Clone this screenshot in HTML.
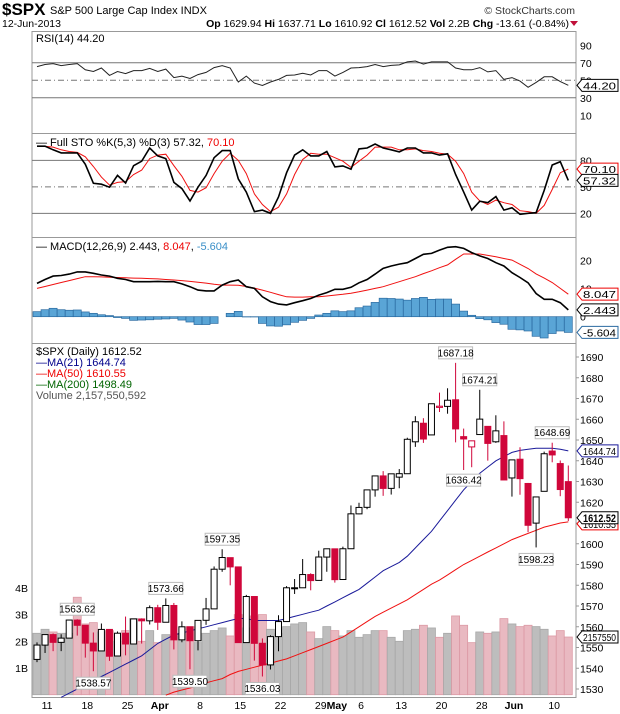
<!DOCTYPE html>
<html><head><meta charset="utf-8">
<style>
body{margin:0;background:#fff;}
svg{display:block;font-family:"Liberation Sans",sans-serif;}
</style></head>
<body>
<svg id="chart" width="620" height="714" viewBox="0 0 620 714" xmlns="http://www.w3.org/2000/svg">
  <rect x="0" y="0" width="620" height="714" fill="#fff"/>
  <g>
    <text x="2" y="15" font-size="17" font-weight="bold">$SPX</text>
    <text x="50" y="14" font-size="11">S&amp;P 500 Large Cap Index  INDX</text>
    <text x="575" y="14" font-size="10.5" text-anchor="end" fill="#333">© StockCharts.com</text>
    <text x="2" y="27" font-size="10.5">12-Jun-2013</text>
    <text x="569" y="27" font-size="10.5" text-anchor="end"><tspan font-weight="bold">Op</tspan> 1629.94 <tspan font-weight="bold">Hi</tspan> 1637.71 <tspan font-weight="bold">Lo</tspan> 1610.92 <tspan font-weight="bold">Cl</tspan> 1612.52 <tspan font-weight="bold">Vol</tspan> 2.2B <tspan font-weight="bold">Chg</tspan> -13.61 (-0.84%)</text>
    <path d="M570,21 L578,21 L574,26 Z" fill="#c0103a"/>
  </g>
  <g id="frames">
    <rect x="32" y="31.5" width="544" height="102" fill="none" stroke="#999"/>
    <rect x="32" y="133.5" width="544" height="104" fill="none" stroke="#999"/>
    <rect x="32" y="237.5" width="544" height="106" fill="none" stroke="#999"/>
    <rect x="32" y="343.5" width="544" height="354" fill="none" stroke="#999"/>
  </g>
  <g id="layer"></g>
  <g font-size="11">
    <text x="36" y="42">RSI(14) 44.20</text>
    <text x="36" y="146">— Full STO %K(5,3) %D(3) 57.32, <tspan fill="#e00">70.10</tspan></text>
    <text x="36" y="250">— MACD(12,26,9) 2.443, <tspan fill="#e00">8.047</tspan>, <tspan fill="#3a8fc8">-5.604</tspan></text>
    <text x="36" y="355">$SPX (Daily) 1612.52</text>
    <text x="36" y="366" fill="#00008b">—MA(21) 1644.74</text>
    <text x="36" y="377" fill="#e00">—MA(50) 1610.55</text>
    <text x="36" y="388" fill="#006400">—MA(200) 1498.49</text>
    <text x="36" y="399" fill="#555">Volume 2,157,550,592</text>
  </g>
</svg>
<script>
const dates=[8,11,12,13,14,15,18,19,20,21,22,25,26,27,28,1,2,3,4,5,8,9,10,11,12,15,16,17,18,19,22,23,24,25,26,29,30,1,2,3,6,7,8,9,10,13,14,15,16,17,20,21,22,23,24,28,29,30,31,3,4,5,6,7,10,11,12];
const opens=[1544.26,1551.15,1556.22,1552.48,1554.52,1563.21,1560.70,1552.10,1548.34,1558.71,1545.90,1556.89,1551.69,1563.75,1562.86,1569.18,1562.17,1570.25,1553.69,1559.98,1553.26,1563.11,1568.61,1587.73,1593.30,1588.84,1552.36,1574.57,1552.03,1541.61,1555.25,1562.50,1578.78,1578.78,1585.16,1582.34,1593.58,1597.55,1582.77,1597.60,1614.40,1617.55,1625.95,1632.69,1626.69,1632.10,1633.75,1649.13,1658.07,1652.45,1665.71,1666.20,1669.39,1651.62,1646.67,1652.63,1656.57,1649.14,1652.13,1631.71,1640.73,1629.05,1609.94,1625.27,1644.67,1638.64,1629.94];
const highs=[1552.48,1556.27,1556.77,1556.39,1563.32,1563.62,1560.70,1557.25,1561.56,1558.71,1557.74,1564.91,1563.95,1564.07,1570.28,1570.57,1573.66,1571.47,1562.60,1559.98,1563.07,1573.89,1589.07,1597.35,1593.30,1588.84,1575.35,1574.57,1554.38,1555.89,1565.55,1579.58,1583.00,1592.64,1585.78,1596.65,1597.57,1597.55,1598.60,1618.46,1619.77,1626.03,1632.78,1635.01,1633.70,1636.00,1651.10,1661.49,1660.51,1667.47,1672.84,1674.93,1687.18,1655.50,1649.78,1674.21,1656.57,1661.91,1658.99,1640.42,1646.53,1629.31,1622.56,1644.40,1648.69,1640.13,1637.71];
const lows=[1542.94,1547.36,1548.24,1548.25,1554.52,1555.74,1545.13,1538.57,1548.34,1543.55,1545.90,1546.22,1551.69,1551.90,1561.08,1558.47,1562.17,1549.07,1552.53,1539.50,1548.63,1560.92,1568.61,1586.48,1579.97,1552.28,1552.36,1543.69,1536.03,1539.40,1548.19,1562.50,1575.80,1578.78,1577.56,1582.34,1586.50,1581.28,1582.77,1597.60,1614.21,1616.64,1622.70,1623.09,1623.71,1626.74,1633.75,1646.68,1648.60,1652.45,1663.52,1662.67,1648.86,1635.53,1636.88,1652.63,1640.05,1648.61,1630.74,1622.72,1623.62,1605.58,1598.23,1625.27,1639.26,1622.92,1610.92];
const closes=[1551.18,1556.22,1552.48,1554.52,1563.23,1560.70,1552.10,1548.34,1558.71,1545.80,1556.89,1551.69,1563.77,1562.85,1569.19,1562.17,1570.25,1553.69,1559.98,1553.28,1563.07,1568.61,1587.73,1593.37,1588.85,1552.36,1574.57,1552.01,1541.61,1555.25,1562.50,1578.78,1578.79,1585.16,1582.24,1593.61,1597.57,1582.70,1597.59,1614.42,1617.50,1625.96,1632.69,1626.67,1633.70,1633.77,1650.34,1658.78,1650.47,1667.47,1666.29,1669.16,1655.35,1650.51,1649.60,1660.06,1648.36,1654.41,1630.74,1640.42,1631.38,1608.90,1622.56,1643.38,1642.81,1626.13,1612.52];
const volumes=[2.3,2.45,2.35,2.3,2.3,3.65,2.65,2.7,2.35,2.4,2.0,2.4,2.85,2.0,2.4,1.95,2.25,2.2,2.3,2.55,1.95,2.3,2.4,2.5,2.2,3.0,2.5,2.95,3.0,2.45,2.3,2.55,2.65,2.7,2.35,2.1,2.55,2.4,2.2,2.4,2.15,2.25,2.4,2.4,2.15,2.0,2.4,2.45,2.6,2.5,2.15,2.3,2.95,2.6,1.95,2.35,2.3,2.35,2.85,2.65,2.55,2.6,2.55,2.45,2.2,2.4,2.16];
const ma21=[null,null,null,1526,1528,1530,1532,1534,1536,1538,1540,1542,1544,1546,1549,1552,1554,1556,1557,1558,1559,1560,1561,1562,1563,1564,1564,1563,1563,1563,1563,1564,1565,1566,1567,1568,1570,1572,1574,1576,1578,1581,1584,1587,1589,1591,1594,1598,1602,1606,1611,1616,1621,1626,1630,1634,1637,1640,1642,1644,1645,1645.5,1646,1646,1646,1645.5,1644.74];
const ma50=[null,null,null,null,null,null,null,null,null,null,null,null,null,null,null,null,1527,1528.5,1529.5,1530.5,1531.5,1533,1534,1535,1537,1538.5,1539.5,1540.5,1541.5,1542.5,1543.5,1544.5,1546,1547.5,1549,1550.5,1552,1553.5,1555,1557.5,1560,1562.5,1565,1567,1569,1571,1573,1575.5,1578,1580.5,1582.5,1585,1587.5,1590,1592,1594,1596,1598,1600,1602,1603.5,1605,1606.5,1608,1609,1610,1610.55];
const rsi=[65.6,68,69,66.7,68,69,62,60,64,55.5,60,57.6,61,61,63.5,60,62.7,53,54.7,52,56.5,59,64.5,66.7,64,48,54.7,46.7,44,48,51,55.5,56,58,56,61,61,54.7,59,64,64.5,65.6,68,65.6,67,67.5,71,72,68.5,71,71,71,64,62,62,64.5,59.5,61,51,53,49,42,47.5,54,54,48.5,44.2];
const stoK=[96,96,92,88.5,88.5,88.5,75.5,54,53,49.6,63,54.4,74,79,94,85,82,55,48,34,49.6,63,83,91,91,59,44,22,23.7,20,38.5,66,86,92,85,85,90,72.6,73.7,70,93,94,98.5,94,92,89.6,94,94,88.5,88.5,86,87.4,64,44,23.7,33.7,32,39,23.7,26.3,18.9,20,20.7,46,74.8,78.5,57.32];
const stoD=[96,96,95,92,90,89,84,73,61,52,55,56,64,69,82,86,87,74,62,46,44,49,65,79,88,80,65,42,30,22,27,42,64,81,88,87,87,83,79,72,79,86,95,95,95,92,92,93,91,90,88,87,79,65,44,34,30,35,32,30,23,22,20,29,47,66,70.1];
const macd=[11.9,13.3,14.5,14.7,15.2,16,16,15.5,14.9,14.5,13.7,13.3,12.5,12.5,12.5,12.6,12.5,12.5,11.7,10.7,9.5,9.2,9.2,11.3,12.5,13.1,10.7,10.1,7.1,5.4,4.5,4.2,5,5.7,6.5,7.7,8.6,9.8,9.8,10.5,12.1,13.3,15.2,17.3,18.1,18.8,19.3,20.8,22.3,22.6,23.8,24.8,25,24.4,22.9,21.7,20.8,19.3,18.1,15.7,14,12.1,8.3,6.2,6.2,5,2.443];
const signal=[10.1,10.8,11.5,12.2,12.9,13.6,14.3,14.3,14.2,14.1,14.0,13.9,13.8,13.7,13.6,13.5,13.3,13.1,12.9,12.6,12.3,12.0,11.6,11.3,11.3,11.2,10.8,10.2,9.5,8.7,7.9,7.1,7.0,7.0,7.1,7.1,7.4,7.7,8.0,8.4,8.9,9.5,10.1,10.7,11.6,12.5,13.4,14.3,15.4,16.4,17.5,18.5,20.5,22.4,22.4,22.4,21.9,21.4,20.8,20.2,18.7,17.2,15.3,13.8,12.2,10.1,8.047];
const priceTicks=[1530,1540,1550,1560,1570,1580,1590,1600,1610,1620,1630,1640,1650,1660,1670,1680,1690];
const volTicks=[1,2,3,4];
const rsiTicks=[90,70,50,30,10];
const stoTicks=[80,50,20];
const macdTicks=[20,10,0];
const xLabelIdx=[1,6,11,15,20,25,30,35,37,40,45,50,55,59,64];
const xLabelText=["11","18","25","Apr","8","15","22","29","May","6","13","20","28","Jun","10"];
const xLabelBold=[0,0,0,1,0,0,0,0,1,0,0,0,0,1,0];
const callIdx=[52,55,53,64,62,23,16,5,7,19,28];
const callVal=[1687.18,1674.21,1636.42,1648.69,1598.23,1597.35,1573.66,1563.62,1538.57,1539.50,1536.03];
const callAbove=[1,1,0,1,0,1,1,1,0,0,0];

const NS="http://www.w3.org/2000/svg";
const L=document.getElementById('layer');
function mk(tag,attrs,parent){const e=document.createElementNS(NS,tag);for(const k in attrs)e.setAttribute(k,attrs[k]);(parent||L).appendChild(e);return e;}
const X=i=>37+8.05*i;
const yP=p=>357+(1690-p)*2.075;
const yV=v=>694.7-v*26.7;
const yR=v=>124-v*0.875;
const yS=v=>231-v*0.883;
const yM=v=>316.7-v*2.8;
const RED="#d0063a";

volumes.forEach((v,i)=>{
  const up=i==0||closes[i]>=closes[i-1];
  const r=mk('rect',{x:X(i)-4,y:yV(v),width:8,height:694.7-yV(v),fill:up?"#bdbdbd":"#e9b9c1",stroke:up?"#a8a8a8":"#dc9aa5","stroke-width":0.8});
  
  
});
volTicks.forEach(v=>{
  const t=mk('text',{x:28,y:yV(v)+4,"font-size":10.5,"text-anchor":"end"});t.textContent=v+"B";
  
  
});
priceTicks.forEach(p=>{
  const t=mk('text',{x:580,y:yP(p)+4,"font-size":10.5});t.textContent=p;
  
  
  const k=mk('line',{x1:576,x2:579,y1:yP(p),y2:yP(p),stroke:"#999"});
  
  
});
function line(arr,yf,color,w,name){
  let d="";arr.forEach((v,i)=>{if(v==null)return;d+=(d?"L":"M")+X(i).toFixed(1)+","+yf(v).toFixed(1);});
  const p=mk('path',{d:d,fill:"none",stroke:color,"stroke-width":w});
  
  
}
line(ma50,yP,"#f01010",1,'ma50-line');
line(ma21,yP,"#1a1a9a",1,'ma21-line');
opens.forEach((o,i)=>{
  const c=closes[i];const col=(i==0||c>=closes[i-1])?"#000":RED;
  const w=mk('line',{x1:X(i),x2:X(i),y1:yP(highs[i]),y2:yP(lows[i]),stroke:col,"stroke-width":1});
  
  
  const top=yP(Math.max(o,c)),bot=yP(Math.min(o,c));
  const b=mk('rect',{x:X(i)-3,y:top,width:6,height:Math.max(1,bot-top),fill:c<o?col:"#fff",stroke:col,"stroke-width":1});
  
  
});
callIdx.forEach((idx,k)=>{
  const v=callVal[k],cx=X(idx);
  const y=callAbove[k]?yP(v)-16:yP(v)+6;
  const g=mk('g',{});
  
  
  mk('rect',{x:cx-17,y:y,width:34,height:12,fill:"#fff",stroke:"#bbb"},g);
  const t=mk('text',{x:cx,y:y+9.5,"font-size":10,"text-anchor":"middle"},g);t.textContent=v.toFixed(2);
});
[70,30].forEach(v=>{const l=mk('line',{x1:32,x2:576,y1:yR(v),y2:yR(v),stroke:"#777"});
  
  });
{const l=mk('line',{x1:32,x2:576,y1:yR(50),y2:yR(50),stroke:"#777","stroke-dasharray":"6,3,1,3"});
  
  }
line(rsi,yR,"#222",1,'rsi-line');
rsiTicks.forEach(v=>{const t=mk('text',{x:580,y:yR(v)+4,"font-size":10.5});t.textContent=v;
  
  });
[80,20].forEach(v=>{const l=mk('line',{x1:32,x2:576,y1:yS(v),y2:yS(v),stroke:"#777"});
  
  });
{const l=mk('line',{x1:32,x2:576,y1:yS(50),y2:yS(50),stroke:"#777","stroke-dasharray":"6,3,1,3"});
  
  }
line(stoD,yS,"#f01010",1,'sto-d-line');
line(stoK,yS,"#000",1.6,'sto-k-line');
stoTicks.forEach(v=>{const t=mk('text',{x:580,y:yS(v)+4,"font-size":10.5});t.textContent=v;
  
  });
macd.forEach((m,i)=>{const h=m-signal[i];const y0=yM(0),y1=yM(h);
  const r=mk('rect',{x:X(i)-4,y:Math.min(y0,y1),width:8,height:Math.abs(y1-y0),fill:"#5aa5d6",stroke:"#2a6aa0","stroke-width":0.7});
  
  });
line(signal,yM,"#f01010",1,'macd-signal-line');
line(macd,yM,"#000",1.6,'macd-line');
macdTicks.forEach(v=>{const t=mk('text',{x:580,y:yM(v)+4,"font-size":10.5});t.textContent=v;
  
  });
xLabelIdx.forEach((idx,k)=>{const t=mk('text',{x:X(idx)+2,y:709,"font-size":10.5,"text-anchor":"middle","font-weight":xLabelBold[k]?"bold":"normal"});t.textContent=xLabelText[k];
  
  });
function tag(y,txt,color,bold,name){
  const g=mk('g',{});
  
  
  mk('path',{d:`M577,${y} L582,${y-6} L618,${y-6} L618,${y+6} L582,${y+6} Z`,fill:"#fff",stroke:color},g);
  const t=mk('text',{x:583,y:y+4,"font-size":bold?11:10,"font-weight":bold?"bold":"normal",textLength:33,lengthAdjust:"spacingAndGlyphs"},g);t.textContent=txt;
}
tag(yR(rsi[rsi.length-1]),"44.20","#000",0,'rsi-value-tag');
tag(yS(stoD[stoD.length-1]),"70.10","#e00",0,'sto-d-value-tag');
tag(yS(stoK[stoK.length-1]),"57.32","#000",0,'sto-k-value-tag');
tag(yM(signal[signal.length-1]),"8.047","#e00",0,'macd-signal-tag');
tag(yM(macd[macd.length-1]),"2.443","#000",0,'macd-value-tag');
tag(yM(macd[macd.length-1]-signal[signal.length-1]),"-5.604","#2a6aa0",0,'macd-hist-tag');
tag(yV(volumes[volumes.length-1]),"2157550","#000",0,'volume-value-tag');
tag(yP(ma50[ma50.length-1])+2,"1610.55","#e00",0,'ma50-value-tag');
tag(yP(ma21[ma21.length-1]),"1644.74","#1a1a9a",0,'ma21-value-tag');
tag(yP(closes[closes.length-1]),"1612.52","#000",1,'close-value-tag');
</script>
</body></html>
